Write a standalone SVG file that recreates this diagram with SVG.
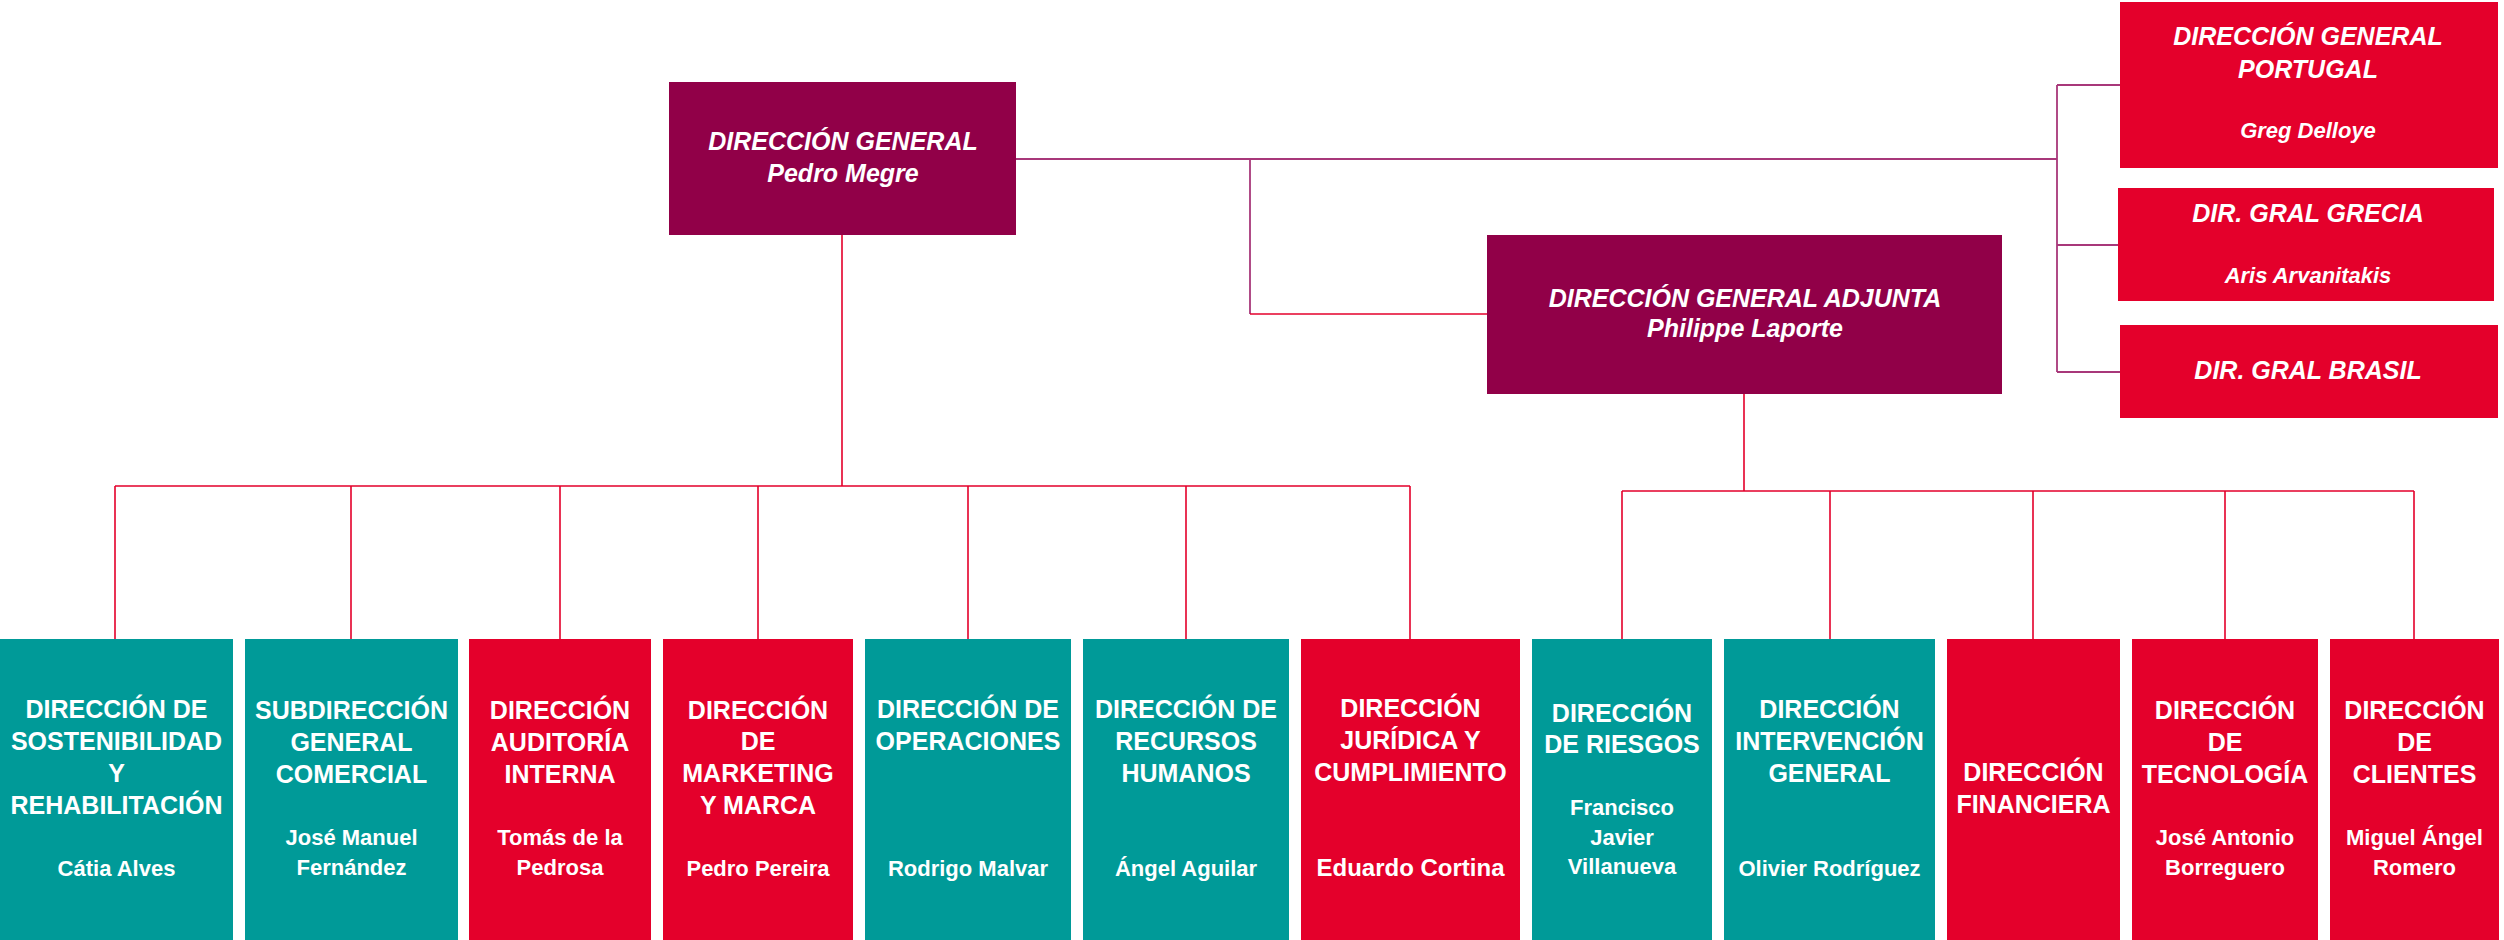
<svg xmlns="http://www.w3.org/2000/svg" width="2504" height="940" viewBox="0 0 2504 940">
<style>
.teal{fill:#009a98}
.red{fill:#e4002b}
.maroon{fill:#910048}
text{font-family:"Liberation Sans",Arial,sans-serif;font-weight:bold;fill:#fff;text-anchor:middle}
.t{font-size:25px}
.n{font-size:22px}
.it{font-style:italic}
.lr{stroke:#e4002b;stroke-width:1.6;fill:none}
.lp{stroke:#a8387a;stroke-width:1.8;fill:none}
</style>
<rect width="2504" height="940" fill="#fff"/>
<g id="connectors">
<path class="lp" d="M1016,159 H2057"/>
<path class="lp" d="M1250,159 V314"/>
<path class="lr" d="M1250,314 H1487"/>
<path class="lp" d="M2057,85 V372 M2057,85 H2120 M2057,245 H2118 M2057,372 H2120"/>
<path class="lr" d="M842,235 V486 M115,486 H1410 M115,486 V639 M351,486 V639 M560,486 V639 M758,486 V639 M968,486 V639 M1186,486 V639 M1410,486 V639"/>
<path class="lr" d="M1744,394 V491 M1622,491 H2414 M1622,491 V639 M1830,491 V639 M2033,491 V639 M2225,491 V639 M2414,491 V639"/>
</g>
<g id="dg">
<rect class="maroon" x="669" y="82" width="347" height="153"/>
<text class="t it" x="843" y="150">DIRECCIÓN GENERAL</text>
<text class="t it" x="843" y="182">Pedro Megre</text>
</g>
<g id="dga">
<rect class="maroon" x="1487" y="235" width="515" height="159"/>
<text class="t it" x="1745" y="307">DIRECCIÓN GENERAL ADJUNTA</text>
<text class="t it" x="1745" y="337">Philippe Laporte</text>
</g>
<g id="portugal">
<rect class="red" x="2120" y="2" width="378" height="166"/>
<text class="t it" x="2308" y="45">DIRECCIÓN GENERAL</text>
<text class="t it" x="2308" y="78">PORTUGAL</text>
<text class="n it" x="2308" y="138">Greg Delloye</text>
</g>
<g id="grecia">
<rect class="red" x="2118" y="188" width="376" height="113"/>
<text class="t it" x="2308" y="222">DIR. GRAL GRECIA</text>
<text class="n it" x="2308" y="283">Aris Arvanitakis</text>
</g>
<g id="brasil">
<rect class="red" x="2120" y="325" width="378" height="93"/>
<text class="t it" x="2308" y="379">DIR. GRAL BRASIL</text>
</g>
<g id="sostenibilidad">
<rect class="teal" x="0" y="639" width="233" height="301"/>
<text class="t" x="116.5" y="718">DIRECCIÓN DE</text>
<text class="t" x="116.5" y="750">SOSTENIBILIDAD</text>
<text class="t" x="116.5" y="782">Y</text>
<text class="t" x="116.5" y="814">REHABILITACIÓN</text>
<text class="n" x="116.5" y="876">Cátia Alves</text>
</g>
<g id="comercial">
<rect class="teal" x="245" y="639" width="213" height="301"/>
<text class="t" x="351.5" y="719">SUBDIRECCIÓN</text>
<text class="t" x="351.5" y="751">GENERAL</text>
<text class="t" x="351.5" y="783">COMERCIAL</text>
<text class="n" x="351.5" y="845">José Manuel</text>
<text class="n" x="351.5" y="875">Fernández</text>
</g>
<g id="auditoria">
<rect class="red" x="469" y="639" width="182" height="301"/>
<text class="t" x="560" y="719">DIRECCIÓN</text>
<text class="t" x="560" y="751">AUDITORÍA</text>
<text class="t" x="560" y="783">INTERNA</text>
<text class="n" x="560" y="845">Tomás de la</text>
<text class="n" x="560" y="875">Pedrosa</text>
</g>
<g id="marketing">
<rect class="red" x="663" y="639" width="190" height="301"/>
<text class="t" x="758" y="719">DIRECCIÓN</text>
<text class="t" x="758" y="750">DE</text>
<text class="t" x="758" y="782">MARKETING</text>
<text class="t" x="758" y="814">Y MARCA</text>
<text class="n" x="758" y="876">Pedro Pereira</text>
</g>
<g id="operaciones">
<rect class="teal" x="865" y="639" width="206" height="301"/>
<text class="t" x="968" y="718">DIRECCIÓN DE</text>
<text class="t" x="968" y="750">OPERACIONES</text>
<text class="n" x="968" y="876">Rodrigo Malvar</text>
</g>
<g id="rrhh">
<rect class="teal" x="1083" y="639" width="206" height="301"/>
<text class="t" x="1186" y="718">DIRECCIÓN DE</text>
<text class="t" x="1186" y="750">RECURSOS</text>
<text class="t" x="1186" y="782">HUMANOS</text>
<text class="n" x="1186" y="876">Ángel Aguilar</text>
</g>
<g id="juridica">
<rect class="red" x="1301" y="639" width="219" height="301"/>
<text class="t" x="1410.5" y="717">DIRECCIÓN</text>
<text class="t" x="1410.5" y="749">JURÍDICA Y</text>
<text class="t" x="1410.5" y="781">CUMPLIMIENTO</text>
<text class="t" x="1410.5" y="876" style="font-size:24px">Eduardo Cortina</text>
</g>
<g id="riesgos">
<rect class="teal" x="1532" y="639" width="180" height="301"/>
<text class="t" x="1622" y="722">DIRECCIÓN</text>
<text class="t" x="1622" y="753">DE RIESGOS</text>
<text class="n" x="1622" y="815">Francisco</text>
<text class="n" x="1622" y="845">Javier</text>
<text class="n" x="1622" y="874">Villanueva</text>
</g>
<g id="intervencion">
<rect class="teal" x="1724" y="639" width="211" height="301"/>
<text class="t" x="1829.5" y="718">DIRECCIÓN</text>
<text class="t" x="1829.5" y="750">INTERVENCIÓN</text>
<text class="t" x="1829.5" y="782">GENERAL</text>
<text class="n" x="1829.5" y="876">Olivier Rodríguez</text>
</g>
<g id="financiera">
<rect class="red" x="1947" y="639" width="173" height="301"/>
<text class="t" x="2033.5" y="781">DIRECCIÓN</text>
<text class="t" x="2033.5" y="813">FINANCIERA</text>
</g>
<g id="tecnologia">
<rect class="red" x="2132" y="639" width="186" height="301"/>
<text class="t" x="2225" y="719">DIRECCIÓN</text>
<text class="t" x="2225" y="751">DE</text>
<text class="t" x="2225" y="783">TECNOLOGÍA</text>
<text class="n" x="2225" y="845">José Antonio</text>
<text class="n" x="2225" y="875">Borreguero</text>
</g>
<g id="clientes">
<rect class="red" x="2330" y="639" width="169" height="301"/>
<text class="t" x="2414.5" y="719">DIRECCIÓN</text>
<text class="t" x="2414.5" y="751">DE</text>
<text class="t" x="2414.5" y="783">CLIENTES</text>
<text class="n" x="2414.5" y="845">Miguel Ángel</text>
<text class="n" x="2414.5" y="875">Romero</text>
</g>
</svg>
